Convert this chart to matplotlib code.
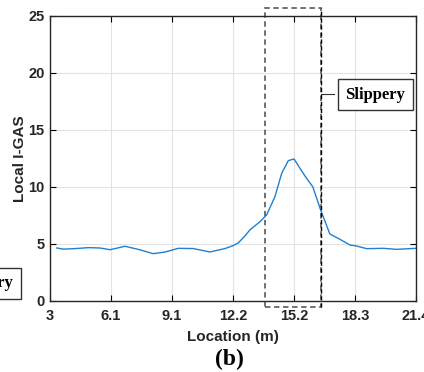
import numpy as np
import matplotlib
matplotlib.use("Agg")
import matplotlib.pyplot as plt
from matplotlib.patches import Rectangle

plt.rcParams["font.family"] = ["Liberation Sans", "DejaVu Sans"]

# values
loc = [3.34, 3.67, 4.3, 4.93, 5.5, 6.02, 6.4, 6.77, 7.5, 8.19, 8.8, 9.45,
       10.2, 11.04, 11.8, 12.2, 12.47, 12.8, 13.05, 13.56, 13.89, 14.31,
       14.65, 14.98, 15.27, 15.57, 15.9, 16.21, 16.61, 17.07, 17.58, 18.08,
       18.42, 18.92, 19.76, 20.43, 21.4]
igas = [4.65, 4.55, 4.6, 4.68, 4.65, 4.5, 4.65, 4.8, 4.5, 4.15, 4.3, 4.62,
        4.6, 4.3, 4.6, 4.85, 5.1, 5.7, 6.23, 6.96, 7.54, 9.15,
        11.2, 12.31, 12.46, 11.64, 10.76, 10.03, 7.98, 5.88, 5.41, 4.91,
        4.82, 4.59, 4.62, 4.53, 4.62]
xtick_labels = ["3", "6.1", "9.1", "12.2", "15.2", "18.3", "21.4"]
yticks = [0, 5, 10, 15, 20, 25]
region = (13.81, 16.62)  # slippery zone

fig = plt.figure(figsize=(4.24, 3.72), dpi=100)
ax = fig.add_axes([0.1179, 0.1909, 0.8631, 0.7661])

ax.plot(loc, igas, color="#2080d0", lw=1.0)

ax.set_xlim(3, 21.4)
ax.set_ylim(0, 25)
ax.set_xticks(np.linspace(3, 21.4, 7))
ax.set_xticklabels(xtick_labels)
ax.set_yticks(yticks)
ax.grid(True, color="#e3e3e3", lw=0.8)
ax.set_axisbelow(True)
ax.tick_params(direction="in", top=True, right=True, length=4, width=0.8,
               labelsize=10.5)
ax.tick_params(axis="x", pad=6)
ax.tick_params(axis="y", pad=4)
for lab in ax.get_xticklabels() + ax.get_yticklabels():
    lab.set_fontweight("bold")
    lab.set_color("#262626")
for s in ax.spines.values():
    s.set_linewidth(1.0)
    s.set_color("#262626")

ax.set_xlabel("Location (m)", fontsize=11, fontweight="bold", color="#262626")
ax.set_ylabel("Local I-GAS", fontsize=11, fontweight="bold", color="#262626")
ax.xaxis.set_label_coords(0.5, -(337 - 301) / 285, transform=ax.transAxes)
ax.yaxis.set_label_coords(-(50 - 20) / 366, 0.5, transform=ax.transAxes)
ax.xaxis.label.set_va("center")
ax.yaxis.label.set_va("center")

# dashed box round the slippery zone, running past the axes
x0, x1 = region
ax.add_patch(Rectangle((x0, -0.5), x1 - x0, 26.2, fill=False, ec="#666666",
                       ls=(0, (3, 2)), lw=1.3, clip_on=False))
ax.plot([x1, x1], [-0.5, 25.7], color="black", ls=(0, (3, 2)), lw=1.0,
        clip_on=False)

serif = ["Liberation Serif", "DejaVu Serif"]
box = dict(boxstyle="square,pad=0.45", fc="white", ec="#333333", lw=1.0)
ax.plot([x1, 17.3], [18.2, 18.2], color="#333333", lw=0.8, clip_on=False)
ax.text(19.35, 18.1, "Slippery", family=serif, fontweight="bold", fontsize=12,
        ha="center", va="center", bbox=box, clip_on=False)
fig.text(13 / 424, 1 - 283 / 372, "Slippery", family=serif, fontweight="bold",
         fontsize=12, ha="right", va="center", bbox=box)

fig.text(229 / 424, 1 - 359 / 372, "(b)", family=serif, fontweight="bold",
         fontsize=17, ha="center", va="center")

fig.savefig("out.png", dpi=100)
